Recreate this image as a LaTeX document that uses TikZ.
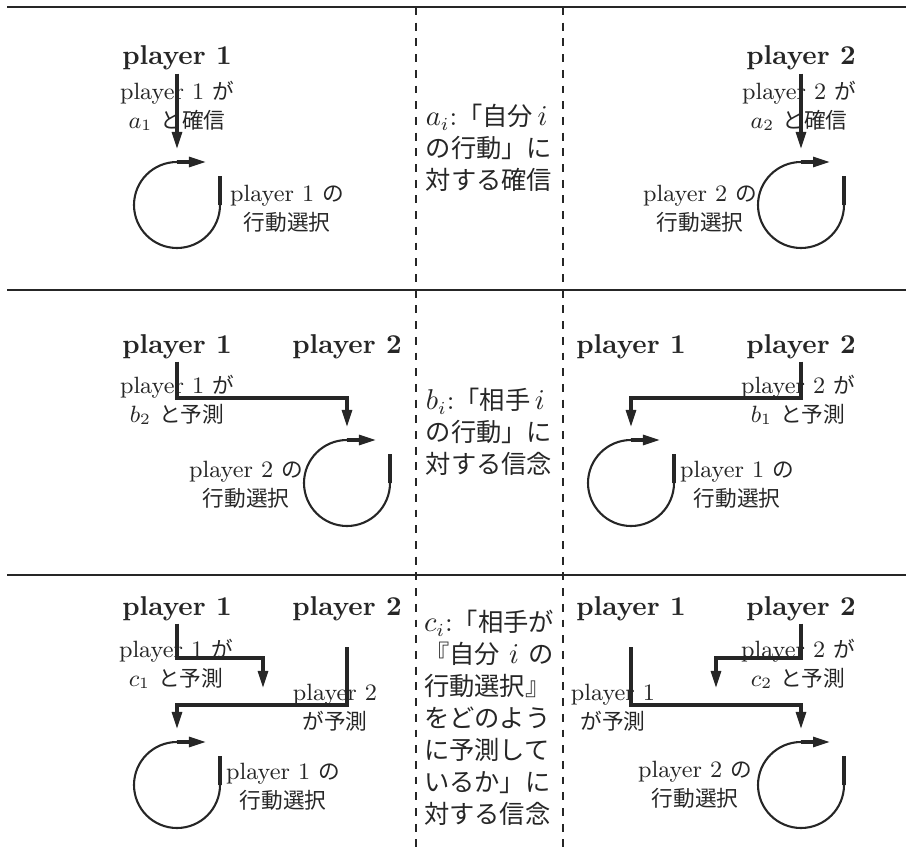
\documentclass[tikz,border=0pt]{standalone}
\usepackage{fontspec}
\newfontfamily\jp{Noto Sans CJK JP}[Scale=0.92]
\usepackage{tikz}
\usetikzlibrary{arrows.meta}

\begin{document}
\begin{tikzpicture}[
    x=0.382pt, y=-0.382pt,
    ink/.style={draw=black!85},
    rowline/.style={ink, line width=1.1pt},
    colline/.style={ink, line width=0.8pt, dashed},
    player/.style={font=\fontsize{10.4}{12}\selectfont\bfseries, inner sep=1pt, anchor=base, text=black!85},
    belief/.style={font=\small, align=center, inner sep=2pt, text=black!85},
    midtext/.style={font=\fontsize{10.5}{12.2}\selectfont, align=left, text=black!85},
    arw/.style={ink, very thick, -{Triangle[length=6.5pt,width=3.8pt]}},
    actloop/.pic={
        \draw[ink, thick] (43,0) arc[start angle=0, end angle=270, radius=43];
        \draw[ink, very thick] (43,0) -- (43,-29);
        \draw[arw] (0,-43) -- (29,-43);
        \coordinate (-in) at (0,-56);
    },
]
\useasboundingbox (0,0) rectangle (906,854);

% table rules
\draw[rowline] (7,7) -- (906,7);
\draw[rowline] (7,290) -- (906,290);
\draw[rowline] (7,575) -- (906,575);
\draw[colline] (416,7) -- (416,854);
\draw[colline] (563,7) -- (563,854);

% row a: own action
\node[player] (p1aL) at (177,65) {player 1};
\node[player] (p2aR) at (801,65) {player 2};
\node[belief] (tbaL) at (177,106) {player 1 {\jp が}\\$a_1$ {\jp と確信}};
\node[belief] (tbaR) at (799,106) {player 2 {\jp が}\\$a_2$ {\jp と確信}};
\pic (loopaL) at (177,205) {actloop};
\pic (loopaR) at (801,205) {actloop};
\node[belief] (actaL) at (287,209) {player 1 {\jp の}\\{\jp 行動選択}};
\node[belief] (actaR) at (700,209) {player 2 {\jp の}\\{\jp 行動選択}};
\draw[arw] (p1aL) -- (loopaL-in);
\draw[arw] (p2aR) -- (loopaR-in);
\node[midtext] (defA) at (489,148) {$a_i$:{\jp「自分}\,$i$\\{\jp の行動」に}\\{\jp 対する確信}};

% row b: other's action
\node[player] (p1bL) at (177,353) {player 1};
\node[player] (p2bL) at (347,353) {player 2};
\node[player] (p1bR) at (631,353) {player 1};
\node[player] (p2bR) at (801,353) {player 2};
\node[belief] (tbbL) at (177,400) {player 1 {\jp が}\\$b_2$ {\jp と予測}};
\node[belief] (tbbR) at (798,400) {player 2 {\jp が}\\$b_1$ {\jp と予測}};
\pic (loopbL) at (347,483) {actloop};
\pic (loopbR) at (631,483) {actloop};
\node[belief] (actbL) at (246,485) {player 2 {\jp の}\\{\jp 行動選択}};
\node[belief] (actbR) at (737,485) {player 1 {\jp の}\\{\jp 行動選択}};
\draw[arw] (p1bL) |- (347,398) -- (loopbL-in);
\draw[arw] (p2bR) |- (631,398) -- (loopbR-in);
\node[midtext] (defB) at (489,432) {$b_i$:{\jp「相手}\,$i$\\{\jp の行動」に}\\{\jp 対する信念}};

% row c: belief about the other's prediction
\node[player] (p1cL) at (177,615) {player 1};
\node[player] (p2cL) at (347,615) {player 2};
\node[player] (p1cR) at (631,615) {player 1};
\node[player] (p2cR) at (801,615) {player 2};
\node[belief] (tbcL) at (176,664) {player 1 {\jp が}\\$c_1$ {\jp と予測}};
\node[belief] (tbcR) at (798,664) {player 2 {\jp が}\\$c_2$ {\jp と予測}};
\node[belief] (prcL) at (335,708) {player 2\\{\jp が予測}};
\node[belief] (prcR) at (613,708) {player 1\\{\jp が予測}};
\coordinate (predL) at (263,688);
\coordinate (predR) at (716,688);
\pic (loopcL) at (177,785) {actloop};
\pic (loopcR) at (801,785) {actloop};
\node[belief] (actcL) at (283,787) {player 1 {\jp の}\\{\jp 行動選択}};
\node[belief] (actcR) at (695,785) {player 2 {\jp の}\\{\jp 行動選択}};
\draw[arw] (p1cL) |- (263,658) -- (predL);
\draw[arw] ([yshift=-9pt]p2cL.south) |- (177,705) -- (loopcL-in);
\draw[arw] (p2cR) |- (716,658) -- (predR);
\draw[arw] ([yshift=-9pt]p1cR.south) |- (801,705) -- (loopcR-in);
\node[midtext] (defC) at (489,718)
    {$c_i$:{\jp「相手が}\\{\jp『自分}\ $i$\ {\jp の}\\{\jp 行動選択』}\\{\jp をどのよう}\\{\jp に予測して}\\{\jp いるか」に}\\{\jp 対する信念}};
\end{tikzpicture}
\end{document}
